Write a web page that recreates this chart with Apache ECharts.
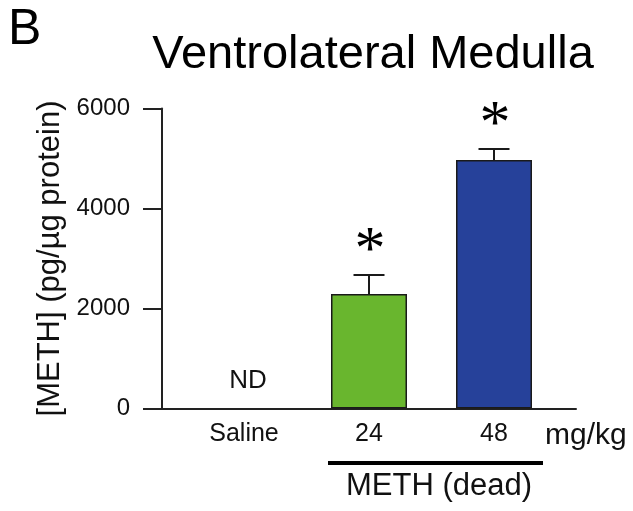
<!DOCTYPE html>
<html>
<head>
<meta charset="utf-8">
<script src="https://cdn.jsdelivr.net/npm/echarts@6/dist/echarts.min.js"></script>
<style>
html,body{margin:0;padding:0;background:#fff;}
#chart{width:633px;height:511px;}
</style>
</head>
<body>
<div id="chart"></div>
<script>
const categories = ['Saline', '24', '48'];
const means = [null, 2290, 4970];
const errors = [null, 380, 220];
const marks = ['ND', '*', '*'];
const barColors = ['#ffffff', '#69b62e', '#26419a'];
const yTicks = [0, 2000, 4000, 6000];

const FONT = '"Liberation Sans", Arial, Helvetica, sans-serif';
const SERIF = '"Liberation Serif", "Times New Roman", serif';
const chart = echarts.init(document.getElementById('chart'), null, {renderer: 'canvas'});

const gridTop = 108.5, gridBottom = 102.5;

const option = {
  animation: false,
  backgroundColor: '#ffffff',
  title: [
    {text: 'B', left: 3, top: 0, textStyle: {fontFamily: FONT, fontSize: 50, fontWeight: 'normal', color: '#000'}},
    {text: 'Ventrolateral Medulla', left: 368, top: 27, textAlign: 'center',
     textStyle: {fontFamily: FONT, fontSize: 47, fontWeight: 'normal', color: '#000'}}
  ],
  grid: [
    {left: 162, right: 57, top: gridTop, bottom: gridBottom},
    {left: 181.5, right: 76.5, top: gridTop, bottom: gridBottom}
  ],
  xAxis: [
    {gridIndex: 0, type: 'value', min: 0, max: 1,
     axisLine: {show: true, onZero: false, lineStyle: {color: '#222', width: 2}},
     axisTick: {show: false}, axisLabel: {show: false}, splitLine: {show: false}},
    {gridIndex: 1, type: 'category', data: categories, boundaryGap: true,
     axisLine: {show: false}, axisTick: {show: false}, splitLine: {show: false},
     axisLabel: {fontFamily: FONT, fontSize: 25, color: '#111', margin: 13}}
  ],
  yAxis: [
    {gridIndex: 0, type: 'value', min: yTicks[0], max: yTicks[yTicks.length - 1], interval: 2000,
     name: '[METH] (pg/µg protein)', nameLocation: 'middle', nameRotate: 90, nameGap: 90,
     nameTextStyle: {fontFamily: FONT, fontSize: 31, color: '#111'},
     axisLine: {show: true, lineStyle: {color: '#222', width: 2}},
     axisTick: {show: true, inside: false, length: 19, lineStyle: {color: '#222', width: 2}},
     axisLabel: {fontFamily: FONT, fontSize: 24, color: '#111', margin: 32,
                 formatter: function (v) { return String(v); }},
     splitLine: {show: false}},
    {gridIndex: 1, type: 'value', min: yTicks[0], max: yTicks[yTicks.length - 1], interval: 2000, show: false,
     splitLine: {show: false}}
  ],
  series: [
    {type: 'bar', xAxisIndex: 1, yAxisIndex: 1, barWidth: 76,
     data: means.map((v, i) => ({value: v, itemStyle: {color: barColors[i]}})),
     itemStyle: {borderColor: '#1a1a1a', borderWidth: 1.5}},
    {type: 'custom', xAxisIndex: 1, yAxisIndex: 1, z: 5,
     data: categories.map((c, i) => [i, means[i] == null ? 0 : means[i], errors[i] == null ? 0 : errors[i]]),
     renderItem: function (params, api) {
       const i = api.value(0), m = api.value(1), e = api.value(2);
       const base = api.coord([i, m]);
       const top = api.coord([i, m + e]);
       const children = [];
       const mark = marks[params.dataIndex];
       if (e > 0) {
         children.push({type: 'line', shape: {x1: base[0], y1: base[1], x2: top[0], y2: top[1]},
                        style: {stroke: '#1a1a1a', lineWidth: 2}});
         children.push({type: 'line', shape: {x1: top[0] - 15.5, y1: top[1], x2: top[0] + 15.5, y2: top[1]},
                        style: {stroke: '#1a1a1a', lineWidth: 2}});
       }
       if (mark === '*') {
         children.push({type: 'text', x: top[0] + 1, y: top[1] - 23,
           style: {text: '*', font: '62px ' + SERIF, fill: '#000', align: 'center', verticalAlign: 'middle'}});
       } else if (mark) {
         children.push({type: 'text', x: top[0] + 4, y: top[1] - 28,
           style: {text: mark, font: '26px ' + FONT, fill: '#111', align: 'center', verticalAlign: 'middle'}});
       }
       return {type: 'group', children: children};
     }}
  ],
  graphic: [
    {type: 'text', left: 545, top: 421, style: {text: 'mg/kg', font: '30px ' + FONT, fill: '#111'}},
    {type: 'line', shape: {x1: 328, y1: 463, x2: 543, y2: 463}, style: {stroke: '#000', lineWidth: 4}},
    {type: 'text', left: 346, top: 471, style: {text: 'METH (dead)', font: '31px ' + FONT, fill: '#111'}}
  ]
};
chart.setOption(option);
</script>
</body>
</html>
